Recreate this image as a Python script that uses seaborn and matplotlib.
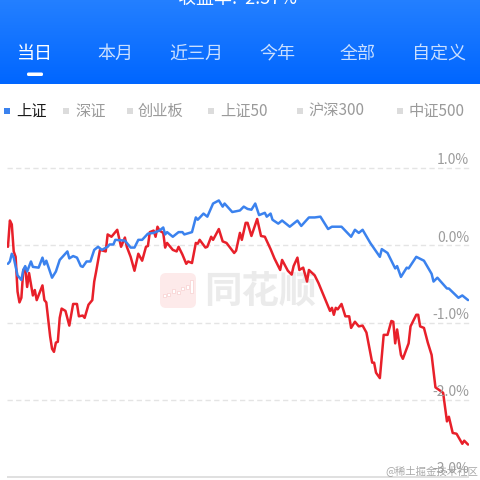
import matplotlib
matplotlib.use('Agg')
import matplotlib.pyplot as plt
from matplotlib.patches import FancyBboxPatch, Rectangle
import numpy as np
import pandas as pd
import seaborn as sns

sns.set_theme(style='white')
plt.rcParams['font.family'] = ['Noto Sans CJK SC', 'DejaVu Sans']

####### DATA #######

blue_min = [0, 1, 2, 3, 5, 7, 8, 9, 10, 12, 13, 16, 18, 19, 20, 23, 25, 27, 31, 32, 34, 36, 38, 39, 41, 43, 45, 47, 49, 52, 53, 55, 56, 61, 64, 66, 68, 70, 73, 76, 79, 81, 82, 83, 86, 89, 91, 92, 96, 98, 99, 102, 104, 107, 110, 112, 113, 117, 121, 123, 125, 127, 129, 131, 134, 135, 137, 138, 141, 143, 147, 151, 153, 157, 160, 163, 167, 169, 174, 179, 181, 183, 185, 189, 194, 195, 198, 202, 203, 205, 208, 209, 213, 217, 221, 222, 224, 229, 230, 235, 237, 240]
blue_pct = [-0.24, -0.21, -0.11, -0.16, -0.39, -0.45, -0.32, -0.27, -0.34, -0.21, -0.28, -0.29, -0.16, -0.25, -0.20, -0.42, -0.34, -0.19, -0.08, -0.17, -0.14, -0.16, -0.27, -0.28, -0.21, -0.21, -0.06, -0.02, -0.06, -0.02, 0.01, 0.01, 0.07, 0.06, -0.03, -0.03, 0.07, 0.07, 0.15, 0.16, 0.19, 0.23, 0.14, 0.17, 0.11, 0.17, 0.17, 0.14, 0.17, 0.36, 0.33, 0.41, 0.37, 0.54, 0.58, 0.50, 0.54, 0.43, 0.45, 0.50, 0.47, 0.46, 0.54, 0.39, 0.42, 0.37, 0.41, 0.33, 0.28, 0.32, 0.24, 0.32, 0.25, 0.36, 0.36, 0.37, 0.21, 0.24, 0.24, 0.11, 0.20, 0.16, 0.20, 0.03, -0.15, -0.05, -0.10, -0.30, -0.27, -0.41, -0.29, -0.30, -0.15, -0.20, -0.37, -0.47, -0.42, -0.56, -0.56, -0.68, -0.65, -0.71]

red_min = [0, 1, 2, 3, 4, 5, 6, 7, 8, 9, 10, 11, 13, 14, 15, 18, 19, 20, 22, 23, 24, 25, 26, 27, 28, 30, 32, 34, 36, 37, 39, 40, 42, 44, 45, 46, 48, 51, 52, 54, 56, 57, 59, 61, 62, 64, 66, 68, 70, 72, 73, 74, 76, 77, 78, 79, 81, 82, 83, 86, 88, 89, 91, 93, 94, 96, 98, 99, 100, 103, 104, 106, 107, 110, 112, 114, 118, 119, 121, 122, 124, 125, 127, 130, 132, 134, 137, 139, 142, 143, 146, 148, 149, 151, 152, 154, 156, 157, 160, 162, 165, 166, 168, 169, 170, 171, 172, 174, 176, 178, 179, 181, 183, 185, 187, 190, 191, 192, 194, 196, 198, 200, 201, 202, 203, 205, 206, 209, 210, 213, 214, 215, 217, 219, 221, 223, 227, 229, 230, 232, 234, 237, 238, 240]
red_pct = [-0.02, 0.32, 0.27, -0.08, -0.15, -0.60, -0.74, -0.68, -0.32, -0.29, -0.54, -0.36, -0.65, -0.58, -0.71, -0.52, -0.71, -0.74, -1.18, -1.34, -1.38, -1.26, -1.25, -0.94, -0.82, -0.85, -1.04, -0.76, -0.76, -0.92, -0.91, -0.94, -0.77, -0.71, -0.47, -0.34, -0.06, -0.08, 0.14, 0.11, 0.17, 0.20, -0.02, 0.10, -0.02, -0.15, -0.33, -0.11, -0.20, -0.02, -0.01, 0.17, 0.19, 0.11, 0.24, 0.19, 0.16, -0.03, 0.03, -0.06, -0.08, -0.02, -0.12, -0.24, -0.21, -0.23, 0.03, 0.02, 0.07, -0.03, -0.02, 0.11, 0.07, 0.21, 0.05, 0.03, -0.10, -0.07, 0.16, 0.07, 0.29, 0.29, 0.12, 0.34, 0.12, 0.11, -0.05, -0.17, -0.32, -0.19, -0.33, -0.38, -0.27, -0.16, -0.32, -0.29, -0.47, -0.32, -0.39, -0.49, -0.67, -0.73, -0.85, -0.81, -0.90, -0.81, -0.83, -0.76, -0.92, -0.92, -1.07, -0.99, -1.05, -1.04, -1.13, -1.52, -1.52, -1.65, -1.72, -1.16, -1.16, -0.98, -0.99, -1.27, -1.09, -1.42, -1.47, -1.27, -1.05, -0.90, -0.90, -1.05, -1.07, -1.26, -1.42, -1.84, -1.91, -2.28, -2.22, -2.43, -2.44, -2.57, -2.53, -2.58]

grid_pct = [1.0, 0.0, -1.0, -2.0, -3.0]
grid_labels = ['1.0%', '0.0%', '-1.0%', '-2.0%', '-3.0%']

tabs = ['当日', '本月', '近三月', '今年', '全部', '自定义']
indices = ['上证', '深证', '创业板', '上证50', '沪深300', '中证500']

BLUE = '#3b82ee'
RED = '#e8202a'

####### FIGURE #######

fig = plt.figure(figsize=(4.8, 4.8), dpi=100)

# page layer in pixel coordinates, y going down like the screenshot
bg = fig.add_axes([0, 0, 1, 1])
bg.set_xlim(0, 480)
bg.set_ylim(480, 0)
bg.axis('off')

# blue header gradient
grad = np.zeros((84, 1, 3))
grad[:, 0, 0] = np.linspace(0.14, 0.0, 84)
grad[:, 0, 1] = np.linspace(0.50, 0.40, 84)
grad[:, 0, 2] = 1.0
bg.imshow(grad, extent=(0, 480, 84, 0), aspect='auto', zorder=1)
bg.set_xlim(0, 480)
bg.set_ylim(480, 0)

bg.text(238, -1, '收益率:  2.57%', color='white', fontsize=13, ha='center', va='center', zorder=3)

tab_x = [35, 115, 196, 277, 358, 439]
for name, x in zip(tabs, tab_x):
    bg.text(x, 54, name, color='white', alpha=1 if name == '当日' else 0.78, fontsize=13, ha='center', va='center', zorder=3)
bg.add_patch(FancyBboxPatch((27, 72.5), 16, 3.5, boxstyle='round,pad=0,rounding_size=1.5', fc='white', ec='none', zorder=3))

marker_x = [4, 63, 127, 208, 297, 397]
text_x = [16, 75, 138, 220, 308, 409]
for i, (name, mx, tx) in enumerate(zip(indices, marker_x, text_x)):
    bg.add_patch(Rectangle((mx, 108), 6, 6, fc=BLUE if i == 0 else '#dcdcdc', ec='none', zorder=3))
    bg.text(tx, 111, name, color='#1a1a1a' if i == 0 else '#9a9a9a', fontsize=11, ha='left', va='center', zorder=3)

# watermark: logo square with small candles, then the name
bg.add_patch(FancyBboxPatch((160, 273), 36, 35, boxstyle='round,pad=0,rounding_size=6', fc='#fdeaea', ec='none', zorder=2))
for cx, cy, h in zip([164, 168, 173, 178, 182, 187, 191], [295, 294, 291, 292, 288, 287, 286], [3, 3, 4, 3, 3, 4, 13]):
    bg.add_patch(Rectangle((cx - 1.5, cy - h / 2), 3, h, fc='white', ec='#f7d0d0', lw=0.5, zorder=2))
bg.text(260, 291, '同花顺', color='#ebebeb', fontsize=27, fontweight='bold', ha='center', va='center', zorder=2)

# bottom rule
bg.add_patch(Rectangle((7, 476), 462, 2, fc='#e0e0e0', ec='none', zorder=2))

####### CHART #######

ax = fig.add_axes([7 / 480, (480 - 477) / 480, 462 / 480, 309 / 480])
ax.patch.set_alpha(0)

red_df = pd.DataFrame({'minute': red_min, 'pct': red_pct})
blue_df = pd.DataFrame({'minute': blue_min, 'pct': blue_pct})
sns.lineplot(data=red_df, x='minute', y='pct', color=RED, lw=1.8, ax=ax, zorder=3, estimator=None, errorbar=None)
sns.lineplot(data=blue_df, x='minute', y='pct', color=BLUE, lw=1.8, ax=ax, zorder=4, estimator=None, errorbar=None)

for val, lab in zip(grid_pct, grid_labels):
    if val > -3:
        ax.axhline(val, color='#e4e4e4', lw=1, dashes=(3.8, 2.4), zorder=1, clip_on=False)
    ax.annotate(lab, (1, val), xycoords=('axes fraction', 'data'), xytext=(0, 5.5), textcoords='offset points',
                color='#9c9c9c', fontsize=10, ha='right', va='center', annotation_clip=False)

ax.set_xlim(-0.5, 240.5)
ax.set_ylim(-3.0, 1.0)
ax.axis('off')

bg.text(478, 471, '@稀土掘金技术社区', color='#8c8c8c', alpha=0.75, fontsize=7.5, ha='right', va='center', zorder=5)

fig.savefig('out.png', dpi=100)
